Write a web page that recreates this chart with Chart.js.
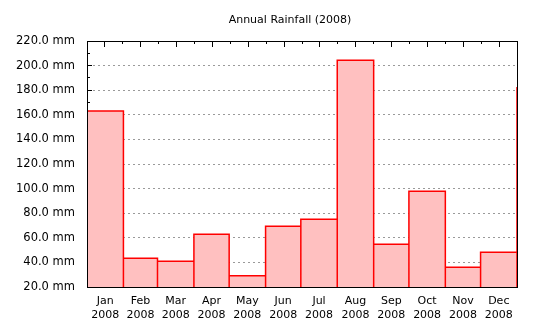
<!DOCTYPE html>
<html><head><meta charset="utf-8">
<script src="https://cdn.jsdelivr.net/npm/chart.js@4/dist/chart.umd.min.js"></script>
<style>html,body{margin:0;padding:0;background:#fff}#wrap{width:540px;height:330px}</style>
</head><body><div id="wrap"><canvas id="c" width="540" height="330"></canvas></div>
<script>
const chartTitle = 'Annual Rainfall (2008)';
const months = ['Jan','Feb','Mar','Apr','May','Jun','Jul','Aug','Sep','Oct','Nov','Dec'];
const yearLabel = '2008';
const daysInMonth = [31,29,31,30,31,30,31,31,30,31,30,31];
const rainfallMm = [163.0,43.3,41.0,62.8,29.2,69.3,75.0,204.3,54.7,97.8,36.0,48.2];
// January 2009, only its edge is visible past the right frame
const nextMonthDays = 31;
const nextMonthRainfallMm = 182.6;
const yMin = 20, yMax = 220, yStep = 20;

const starts = [];
let acc = 0;
daysInMonth.forEach(d => { starts.push(acc); acc += d; });
const yearDays = acc;
const allStarts = [...starts, yearDays];
const allDays = [...daysInMonth, nextMonthDays];
const allVals = [...rainfallMm, nextMonthRainfallMm];
const pts = [];
allVals.forEach((v, i) => {
  const s = allStarts[i], e = s + allDays[i];
  pts.push({x: s, y: yMin}, {x: s, y: v}, {x: e, y: v}, {x: e, y: yMin});
});
const midpoints = starts.map((s, i) => s + daysInMonth[i] / 2);
const halfSteps = Array.from({length: 25}, (_, i) => i);

const FONT = 'DejaVu Sans';
const titleShift = {id: 'titleShift', afterLayout(chart) { if (chart.titleBlock) chart.titleBlock.left += 63; }};

new Chart(document.getElementById('c'), {
  type: 'line',
  data: {datasets: [{
    data: pts, xAxisID: 'x', yAxisID: 'y',
    borderColor: '#ff0000', borderWidth: 1.5, borderJoinStyle: 'miter',
    backgroundColor: 'rgb(255,192,192)', fill: 'start',
    pointRadius: 0, pointHoverRadius: 0, tension: 0,
    clip: {left: 0, top: 0, right: 2, bottom: 0}
  }]},
  options: {
    responsive: false, animation: false, devicePixelRatio: 1,
    events: [],
    layout: {padding: {left: 0, right: 23, top: 0, bottom: 0}},
    plugins: {
      legend: {display: false}, tooltip: {enabled: false},
      title: {display: true, text: chartTitle, color: '#000',
        font: {family: FONT, size: 11, weight: 'normal', lineHeight: 1.2},
        padding: {top: 14, bottom: 13.8}}
    },
    scales: {
      x: {
        type: 'linear', position: 'bottom', min: 0, max: yearDays,
        afterBuildTicks: s => { s.ticks = midpoints.map(v => ({value: v})); },
        ticks: {autoSkip: false, maxRotation: 0, padding: 7, color: '#000',
          font: {family: FONT, size: 11, lineHeight: 1.3},
          callback: (v, i) => [months[i], yearLabel]},
        grid: {drawOnChartArea: false, drawTicks: false},
        border: {color: '#000', width: 1, z: 1},
        afterFit: s => { s.height = 43; }
      },
      xTopMajor: {
        type: 'linear', position: 'top', min: 0, max: 24,
        afterBuildTicks: s => { s.ticks = halfSteps.filter(v => v % 2 === 1).map(v => ({value: v})); },
        ticks: {display: false},
        grid: {drawOnChartArea: false, drawTicks: true, tickLength: -6, tickColor: '#000', tickWidth: 1},
        border: {color: '#000', width: 1, z: 1},
        afterFit: s => { s.height = 0; }
      },
      xTopMinor: {
        type: 'linear', position: 'top', min: 0, max: 24,
        afterBuildTicks: s => { s.ticks = halfSteps.filter(v => v % 2 === 0 && v > 0 && v < 24).map(v => ({value: v})); },
        ticks: {display: false},
        grid: {drawOnChartArea: false, drawTicks: true, tickLength: -3, tickColor: '#000', tickWidth: 1},
        border: {display: false},
        afterFit: s => { s.height = 0; }
      },
      y: {
        type: 'linear', position: 'left', min: yMin, max: yMax, weight: 1,
        ticks: {stepSize: yStep, padding: 17, color: '#000',
          font: {family: FONT, size: 11.5},
          callback: v => v.toFixed(1) + ' mm'},
        grid: {
          color: c => (c.tick && (c.tick.value === yMin || c.tick.value === yMax)) ? 'rgba(0,0,0,0)' : '#9a9a9a',
          lineWidth: 1, drawTicks: true, tickLength: -5, tickColor: '#000', tickWidth: 1
        },
        border: {color: '#000', width: 1, z: 1, dash: [2, 3]},
        afterFit: s => { s.width = 87; }
      },
      yMinor: {
        type: 'linear', position: 'left', min: yMin, max: yMax, weight: 0,
        ticks: {display: false, stepSize: yStep / 2, autoSkip: false},
        grid: {drawOnChartArea: false, drawTicks: true, tickLength: -3, tickColor: '#000', tickWidth: 1},
        border: {display: false},
        afterFit: s => { s.width = 0; }
      },
      yRight: {
        type: 'linear', position: 'right', min: yMin, max: yMax,
        ticks: {display: false},
        grid: {display: false},
        border: {color: '#000', width: 1, z: 1},
        afterFit: s => { s.width = 0; }
      }
    }
  },
  plugins: [titleShift]
});
</script>
</body></html>
